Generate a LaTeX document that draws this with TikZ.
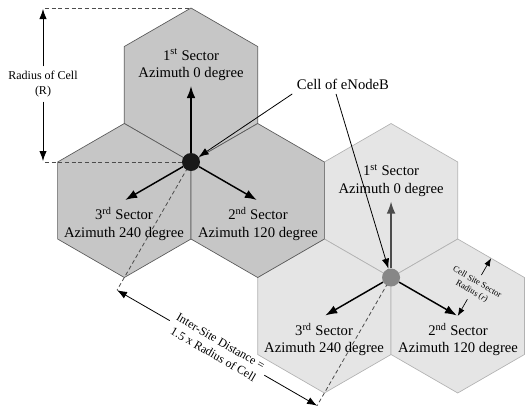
\documentclass[tikz,border=0pt]{standalone}
\usepackage{fontspec}
\setmainfont{Liberation Serif}
\usetikzlibrary{arrows.meta,positioning}
\tikzset{
  cellA/.style={fill=gray!45,draw=black!65,line width=0.5pt},
  cellB/.style={fill=gray!20,draw=black!30,line width=0.5pt},
  site/.style={circle,minimum size=13.5pt,inner sep=0pt},
  secarrow/.style={line width=1.1pt,-{Latex[length=9pt,width=6.5pt]}},
  dimarrow/.style={line width=0.6pt,-{Latex[length=7.5pt,width=5.5pt]}},
  smallarrow/.style={line width=0.5pt,-{Latex[length=6pt,width=4.5pt]}},
  guide/.style={black!70,line width=0.6pt,dash pattern=on 3pt off 2pt},
  seclabel/.style={align=center,font=\fontsize{11}{13}\selectfont},
  dimlabel/.style={align=center,font=\fontsize{9}{11}\selectfont},
  tinylabel/.style={align=center,font=\fontsize{6.5}{8}\selectfont}
}

\begin{document}
\begin{tikzpicture}[x=0.75pt,y=0.75pt]
  \pgfmathsetmacro{\R}{77}
  \useasboundingbox (-191,-250) rectangle (337,162);

  \coordinate (A) at (0,0);
  \coordinate (B) at (-30:3*\R);

  % three sectors per site
  \foreach \c/\st in {B/cellB,A/cellA}
    \foreach \a in {90,210,330}
      \draw[\st] (\c) ++(\a:\R) +(30:\R) -- +(90:\R) -- +(150:\R)
        -- +(210:\R) -- +(270:\R) -- +(330:\R) -- cycle;

  % guide lines
  \coordinate (topA) at (0,2*\R);
  \coordinate (radTop) at (-148,153);
  \coordinate (radBot) at (-148,1);
  \path (A) ++(-120:148) coordinate (dA);
  \path (B) ++(-120:148) coordinate (dB);
  \draw[guide] (-146,154) -- (topA);
  \draw[guide] (-146,0) -- (A);
  \draw[guide] (A) -- (dA);
  \draw[guide] (B) -- (dB);

  \node[site,fill=black!90] (siteA) at (A) {};
  \node[site,fill=black!47] (siteB) at (B) {};

  \foreach \c/\col in {A/black,B/black!70}
    \foreach \a in {90,210,330}{
      \path (\c) ++(\a:76) coordinate (tip\c\a);
      \ifnum\a=90
        \draw[secarrow,\col] (site\c) -- (tip\c\a);
      \else
        \draw[secarrow] (site\c) -- (tip\c\a);
      \fi
    }

  \foreach \c in {A,B}
    \foreach \n/\ord/\az/\dx/\dy in {1/st/0/0/97,2/nd/120/67/-62,3/rd/240/-67/-62}
      \path (\c) ++(\dx,\dy) node[seclabel] (lbl\c\n)
        {\n\textsuperscript{\ord} Sector\\Azimuth \az{} degree};

  % cell label
  \node[seclabel] (enbLbl) at (152,78) {Cell of eNodeB};
  \draw[dimarrow] (enbLbl.south west) -- (siteA);
  \draw[dimarrow] (enbLbl.235) -- (siteB);

  % radius of cell
  \node[dimlabel] (radLbl) at (-148,78) {Radius of Cell\\(R)};
  \draw[dimarrow] (radLbl) -- (radTop);
  \draw[dimarrow] (radLbl) -- (radBot);

  % inter-site distance
  \path (A) ++(-30:1.5*\R) ++(-120:148) node[dimlabel,rotate=-30] (isdLbl)
    {Inter-Site Distance =\\1.5 x Radius of Cell};
  \draw[dimarrow] (isdLbl) -- (dA);
  \draw[dimarrow] (isdLbl) -- (dB);

  % sector radius
  \path (B) ++(330:\R) coordinate (hubB2);
  \path (hubB2) ++(60:{sqrt(3)/2*\R}) coordinate (edgeB2);
  \path (hubB2) ++(60:{sqrt(3)/4*\R}) node[tinylabel,rotate=-30] (csrLbl)
    {Cell Site Sector\\Radius (\textit{r})};
  \draw[smallarrow] (csrLbl) -- (edgeB2);
  \draw[smallarrow] (csrLbl) -- (hubB2);
\end{tikzpicture}
\end{document}
